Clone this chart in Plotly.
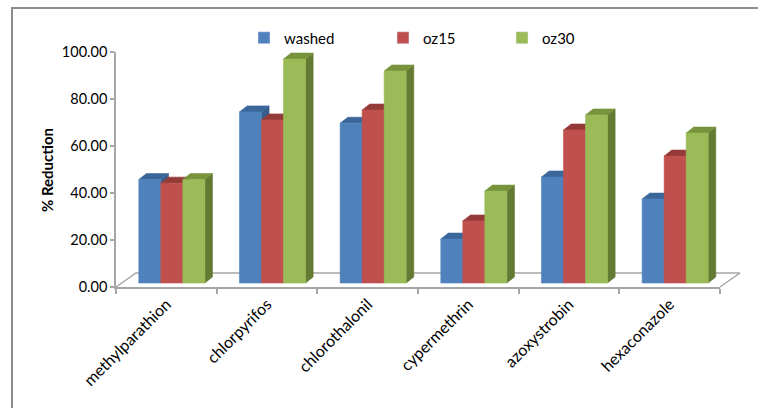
import plotly.graph_objects as go

# ---------------- data ----------------
categories = ["methylparathion", "chlorpyrifos", "chlorothalonil",
              "cypermethrin", "azoxystrobin", "hexaconazole"]
series_names = ["washed", "oz15", "oz30"]
washed = [44.0, 72.8, 68.0, 18.7, 45.1, 35.7]
oz15 = [42.5, 69.4, 73.6, 26.4, 65.1, 54.0]
oz30 = [44.0, 95.3, 90.2, 39.1, 71.5, 63.8]
y_ticks = [0, 20, 40, 60, 80, 100]

series_values = [washed, oz15, oz30]
front_colors = ["#4F81BD", "#C0504D", "#9BBB59"]
top_colors = ["#3B6699", "#943A38", "#77933C"]
side_colors = ["#385D8A", "#7E302E", "#637A32"]

# ---------------- geometry (pixel layout) ----------------
W, H = 758, 408
X0, X1 = 116, 720          # front plane x range (category axis)
Y_TOP, Y_BOT = 52, 287     # value 100 / value 0 on the front plane
ncat = len(categories)
px_x = (X1 - X0) / ncat
px_y = (Y_BOT - Y_TOP) / 100.0

GAP = 0.344                 # gap between groups (fraction of category)
BW = (1 - GAP) / 3          # bar width in category units
SHIFT = 5.5 / px_x          # depth shift of the bar front faces
BASE = 4.0 / px_y           # bars stand slightly behind the front axis
DX, DY = 7.6 / px_x, 6.0 / px_y      # bar depth
FDX, FDY = 20.0 / px_x, 14.0 / px_y  # floor depth

FONT = "Lato"
GRAY = "#A6A6A6"

fig = go.Figure()

# floor outline (front edge is the visible x axis line)
fig.add_trace(go.Scatter(
    x=[0, FDX, ncat + FDX, ncat], y=[0, FDY, FDY, 0],
    xaxis="x2", yaxis="y2", mode="lines",
    line=dict(color=GRAY, width=1.5), showlegend=False, hoverinfo="skip"))


def polys(k, face):
    xs, ys = [], []
    for i, v in enumerate(series_values[k]):
        xl = i + GAP / 2 + SHIFT + k * BW
        xr = xl + BW
        b, t = BASE, BASE + v
        if face == "front":
            px = [xl, xr, xr, xl, xl]
            py = [b, b, t, t, b]
        elif face == "top":
            px = [xl, xr, xr + DX, xl + DX, xl]
            py = [t, t, t + DY, t + DY, t]
        else:
            px = [xr, xr + DX, xr + DX, xr, xr]
            py = [b, b + DY, t + DY, t, b]
        xs += px + [None]
        ys += py + [None]
    return xs, ys


for k in range(3):
    for face, col in (("side", side_colors[k]), ("top", top_colors[k]),
                      ("front", front_colors[k])):
        xs, ys = polys(k, face)
        fig.add_trace(go.Scatter(
            x=xs, y=ys, xaxis="x2", yaxis="y2", mode="lines",
            fill="toself", fillcolor=col,
            line=dict(color=col, width=0.6),
            showlegend=False, hoverinfo="skip"))

# legend entries
legend_ids = ["legend", "legend2", "legend3"]
for k in range(3):
    fig.add_trace(go.Bar(
        x=[None], y=[None], name=series_names[k],
        marker=dict(color=front_colors[k]),
        legend=legend_ids[k], showlegend=True))

legend_x = [244, 383, 502]
legend_common = dict(orientation="h", yanchor="middle", xanchor="left",
                     y=1 - 38 / H, font=dict(family=FONT, size=15, color="#000"),
                     bgcolor="rgba(0,0,0,0)", itemwidth=30)

fig.update_layout(
    width=W, height=H,
    margin=dict(l=0, r=0, t=0, b=0, pad=0),
    paper_bgcolor="white", plot_bgcolor="rgba(0,0,0,0)",
    showlegend=True,
    legend=dict(x=legend_x[0] / W, **legend_common),
    legend2=dict(x=legend_x[1] / W, **legend_common),
    legend3=dict(x=legend_x[2] / W, **legend_common),
    xaxis=dict(
        domain=[X0 / W, X1 / W], range=[0, ncat], anchor="y",
        tickvals=[i + 0.5 for i in range(ncat)], ticktext=categories,
        tickangle=-45, ticks="", showgrid=False, zeroline=False,
        showline=True, linecolor=GRAY, linewidth=1.5,
        tickfont=dict(family=FONT, size=16, color="#000"),
        minor=dict(tickvals=list(range(ncat + 1)), ticks="outside",
                   ticklen=5, tickcolor=GRAY, tickwidth=1.5, showgrid=False),
        automargin=False, fixedrange=True),
    yaxis=dict(
        domain=[(H - Y_BOT) / H, (H - Y_TOP) / H], range=[0, 100], anchor="x",
        tickvals=y_ticks, tickformat=".2f", ticks="outside", ticklen=4,
        tickcolor=GRAY, tickwidth=1.5, showgrid=False, zeroline=False,
        showline=True, linecolor=GRAY, linewidth=1.5,
        tickfont=dict(family=FONT, size=14.5, color="#000"),
        automargin=False, fixedrange=True),
    xaxis2=dict(domain=[0, 1], anchor="y2",
                range=[-X0 / px_x, (W - X0) / px_x], visible=False,
                fixedrange=True),
    yaxis2=dict(domain=[0, 1], anchor="x2",
                range=[-(H - Y_BOT) / px_y, Y_BOT / px_y], visible=False,
                fixedrange=True),
    annotations=[dict(
        text="<b>% Reduction</b>", xref="paper", yref="paper",
        x=47 / W, y=1 - 170 / H, xanchor="center", yanchor="middle",
        textangle=-90, showarrow=False,
        font=dict(family=FONT, size=15, color="#000"))],
    shapes=[dict(type="rect", xref="paper", yref="paper",
                 x0=12 / W, x1=1.2, y0=-0.2, y1=1 - 8 / H,
                 line=dict(color="#8C8C8C", width=2))],
)

fig.write_html("out.html")
